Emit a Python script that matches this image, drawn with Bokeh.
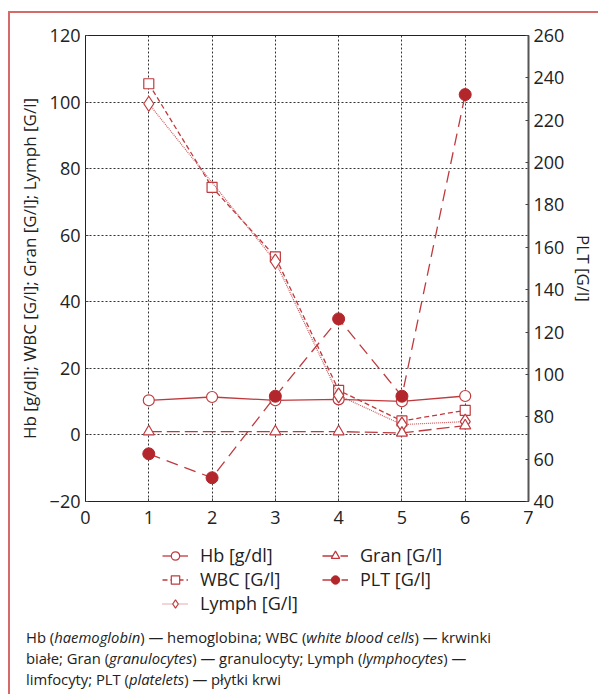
from bokeh.plotting import figure
from bokeh.models import Range1d, LinearAxis, Legend, LegendItem, Div, FixedTicker
from bokeh.layouts import column
from bokeh.embed import file_html
from bokeh.resources import INLINE

# ---- data ----
days = [1, 2, 3, 4, 5, 6]
hb = [10.4, 11.4, 10.4, 10.7, 10.1, 11.7]
wbc = [105.5, 74.4, 53.5, 13.4, 4.2, 7.4]
lymph_days = [1, 3, 4, 5, 6]
lymph = [99.5, 52.1, 11.9, 3.1, 4.0]
gran_days = [1, 3, 4, 5, 6]
gran = [1.0, 1.0, 1.0, 0.6, 2.8]
plt_vals = [62.5, 51.2, 89.7, 126.2, 89.7, 232.1]

x_ticks = [0, 1, 2, 3, 4, 5, 6, 7]
left_ticks = [-20, 0, 20, 40, 60, 80, 100, 120]
right_ticks = [40, 60, 80, 100, 120, 140, 160, 180, 200, 220, 240, 260]

labels = ["Hb [g/dl]", "WBC [G/l]", "Lymph [G/l]", "Gran [G/l]", "PLT [G/l]"]

RED = "#bf3a3e"
RED_LIGHT = "#cf5a5d"
RED_FILL = "#b3262b"
FRAME = "#d46a6a"
FONT = "Open Sans"
TXT = "#222222"

# series styles (shared by chart and legend)
STYLES = {
    "hb": (dict(line_color=RED, line_width=1.3),
           dict(marker="circle", size=11, line_color=RED, fill_color="white", line_width=1.2)),
    "wbc": (dict(line_color=RED, line_width=1.3, line_dash="5 3"),
            dict(marker="square", size=10, line_color=RED, fill_color="white", line_width=1.2)),
    "ly": (dict(line_color=RED_LIGHT, line_width=1.2, line_dash="1 1"),
           dict(marker="diamond", size=15, line_color=RED, fill_color="white", line_width=1.2)),
    "gr": (dict(line_color=RED, line_width=1.3, line_dash="13 5"),
           dict(marker="triangle", size=11, line_color=RED, fill_color="white", line_width=1.2)),
    "plt": (dict(line_color=RED, line_width=1.3, line_dash="12 7"),
            dict(marker="circle", size=12, line_color=RED_FILL, fill_color=RED_FILL)),
}
ORDER = ["hb", "wbc", "ly", "gr", "plt"]

p = figure(width=598, height=536,
           x_range=Range1d(0, 7), y_range=Range1d(-20, 120),
           output_backend="svg", toolbar_location=None,
           min_border_left=85, min_border_right=70, min_border_top=35,
           min_border_bottom=35)
p.extra_y_ranges = {"plt": Range1d(40, 260)}
p.background_fill_color = "white"
p.border_fill_color = "white"
p.outline_line_color = TXT
p.outline_line_width = 1

# axes
p.xaxis.ticker = FixedTicker(ticks=x_ticks)
p.yaxis.ticker = FixedTicker(ticks=left_ticks)
p.yaxis.axis_label = "Hb [g/dl]; WBC [G/l]; Gran [G/l]; Lymph [G/l]"

right = LinearAxis(y_range_name="plt", axis_label="PLT [G/l]",
                   ticker=FixedTicker(ticks=right_ticks))
p.add_layout(right, "right")

for ax in [p.xaxis[0], p.yaxis[0], right]:
    ax.major_label_text_font = FONT
    ax.major_label_text_font_size = "18px"
    ax.major_label_text_color = TXT
    ax.axis_label_text_font = FONT
    ax.axis_label_text_font_size = "17px"
    ax.axis_label_text_font_style = "normal"
    ax.axis_label_text_color = TXT
    ax.minor_tick_line_color = None
    ax.major_tick_out = 0
    ax.major_tick_in = 3
    ax.major_tick_line_color = "#444444"
    ax.axis_line_color = TXT

p.xaxis.major_label_standoff = 9
p.yaxis.major_label_standoff = 5
p.yaxis.axis_label_standoff = 6
right.major_label_standoff = 5
right.axis_label_standoff = 5
right.axis_line_color = "#555555"
right.axis_line_width = 2

# grid
p.xgrid.ticker = FixedTicker(ticks=x_ticks)
p.ygrid.ticker = FixedTicker(ticks=left_ticks)
for g in [p.xgrid[0], p.ygrid[0]]:
    g.grid_line_color = "#333333"
    g.grid_line_dash = "2 2"
    g.grid_line_width = 1

# series
series = {
    "hb": (days, hb, "default"),
    "wbc": (days, wbc, "default"),
    "ly": (lymph_days, lymph, "default"),
    "gr": (gran_days, gran, "default"),
    "plt": (days, plt_vals, "plt"),
}
for key in ORDER:
    xs, ys, rng = series[key]
    lsty, msty = STYLES[key]
    p.line(xs, ys, y_range_name=rng, **lsty)
    p.scatter(xs, ys, y_range_name=rng, **msty)

# legend strip (own small canvas so nothing is clipped)
lg = figure(width=598, height=84, x_range=Range1d(0, 1), y_range=Range1d(0, 1),
            output_backend="svg", toolbar_location=None,
            x_axis_type=None, y_axis_type=None,
            min_border_left=0, min_border_right=0, min_border_top=0,
            min_border_bottom=0)
lg.outline_line_color = None
lg.xgrid.visible = False
lg.ygrid.visible = False
lg.background_fill_color = "white"
lg.border_fill_color = "white"

NAN = float("nan")
items = []
for key, lab in zip(ORDER, labels):
    lsty, msty = STYLES[key]
    r1 = lg.line([NAN], [NAN], **lsty)
    r2 = lg.scatter([NAN], [NAN], **msty)
    items.append(LegendItem(label=lab, renderers=[r1, r2]))

legend = Legend(items=items, nrows=3, location=(77, 5),
                border_line_color=None, background_fill_alpha=0,
                label_text_font=FONT, label_text_font_size="18px",
                label_text_color=TXT, glyph_width=26, glyph_height=21,
                label_width=122, label_standoff=12, spacing=0,
                padding=0, margin=0)
lg.add_layout(legend, "center")

frame_html = ('<div style="position:fixed;left:8px;top:11px;width:700px;height:800px;'
              'border-left:2px solid ' + FRAME + ';border-top:2px solid ' + FRAME + ';'
              'pointer-events:none;"></div>')
caption = ('Hb (<i>haemoglobin</i>) — hemoglobina; WBC (<i>white blood cells</i>) — krwinki<br>'
           'białe; Gran (<i>granulocytes</i>) — granulocyty; Lymph (<i>lymphocytes</i>) —<br>'
           'limfocyty; PLT (<i>platelets</i>) — płytki krwi')
div = Div(text=frame_html + caption, width=560, height=60, margin=(7, 0, 0, 26),
          styles={"font-family": FONT, "font-size": "14.8px",
                  "line-height": "21px", "color": TXT})

root = column(p, lg, div)

open("out.html", "w").write(file_html(root, INLINE))
